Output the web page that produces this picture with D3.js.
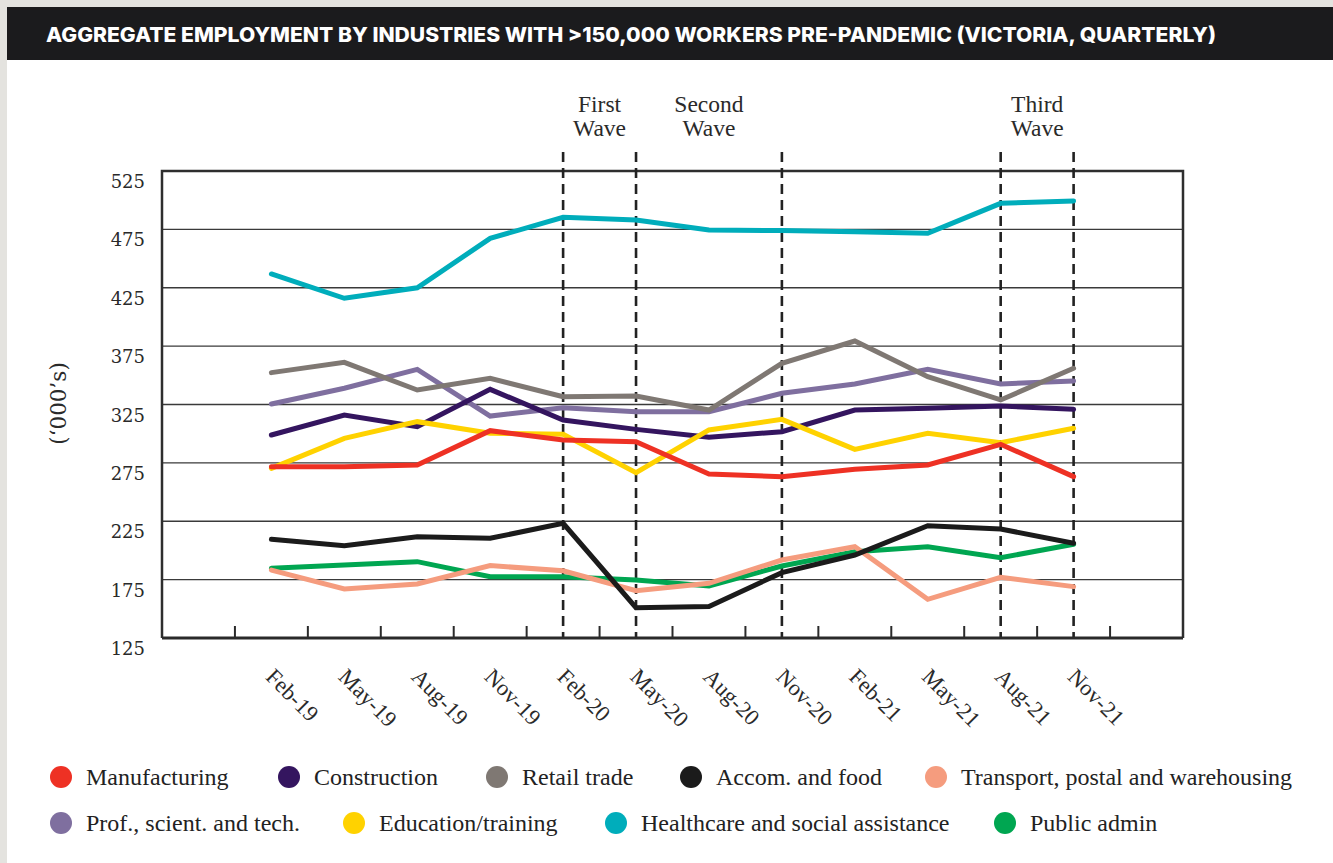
<!DOCTYPE html>
<html>
<head>
<meta charset="utf-8">
<script src="https://cdn.jsdelivr.net/npm/d3@7"></script>
<style>
  html, body { margin: 0; padding: 0; background: #ffffff; }
  svg { display: block; }
</style>
</head>
<body>
<svg id="chart" width="1333" height="863"></svg>
<script>
// ---------------- DATA ----------------
const titleText = "AGGREGATE EMPLOYMENT BY INDUSTRIES WITH >150,000 WORKERS PRE-PANDEMIC (VICTORIA, QUARTERLY)";
const months = ["Feb-19","May-19","Aug-19","Nov-19","Feb-20","May-20","Aug-20","Nov-20","Feb-21","May-21","Aug-21","Nov-21"];
const yTicks = [125, 175, 225, 275, 325, 375, 425, 475, 525];
const yTitle = "(\u2018000\u2019s)";

const manufacturing = [271.7, 271.7, 273.2, 302.6, 294.6, 293.2, 265.5, 263.2, 269.5, 273.2, 290.9, 263.2];
const construction  = [298.9, 316.0, 306.0, 338.0, 311.7, 303.7, 296.9, 301.7, 320.3, 321.7, 323.7, 320.9];
const retailTrade   = [352.3, 361.1, 337.4, 347.4, 331.7, 332.3, 320.3, 360.3, 379.4, 348.8, 328.9, 356.0];
const accomFood     = [209.5, 204.1, 211.8, 210.4, 223.2, 151.0, 152.0, 181.0, 196.1, 221.2, 218.4, 206.1];
const transport     = [183.2, 167.0, 171.3, 187.0, 182.6, 165.5, 171.8, 191.8, 203.2, 158.1, 177.0, 169.0];
const profScient    = [325.4, 338.9, 355.1, 315.1, 322.3, 318.8, 318.8, 334.6, 342.6, 355.1, 342.6, 345.1];
const education     = [270.3, 296.0, 310.3, 300.3, 299.5, 266.6, 303.2, 312.3, 286.6, 300.3, 292.3, 304.6];
const healthcare    = [436.8, 416.0, 425.0, 467.3, 485.3, 483.0, 474.5, 474.0, 473.0, 471.6, 497.3, 499.3];
const publicAdmin   = [184.7, 187.5, 190.4, 177.5, 177.5, 174.7, 169.5, 186.7, 198.9, 203.2, 193.8, 205.3];

const seriesNames  = ["Manufacturing","Construction","Retail trade","Accom. and food","Transport, postal and warehousing",
                      "Prof., scient. and tech.","Education/training","Healthcare and social assistance","Public admin"];
const seriesValues = [manufacturing, construction, retailTrade, accomFood, transport, profScient, education, healthcare, publicAdmin];
const seriesColors = ["#ee3124","#34155f","#7f7873","#1b1b1b","#f59c7e","#7f6f9f","#ffd200","#00adbb","#00a651"];
// drawing order (bottom -> top)
const drawOrder = ["Healthcare and social assistance","Prof., scient. and tech.","Retail trade","Construction",
                   "Education/training","Public admin","Transport, postal and warehousing","Manufacturing","Accom. and food"];

const waveLineMonths = ["Feb-20","May-20","Nov-20","Aug-21","Nov-21"];
const waveLabels = [
  { lines: ["First","Wave"],  from: "Feb-20", to: "May-20" },
  { lines: ["Second","Wave"], from: "Aug-20", to: "Aug-20" },
  { lines: ["Third","Wave"],  from: "Aug-21", to: "Nov-21" }
];

// ---------------- LAYOUT ----------------
const W = 1333, H = 863;
const plot = { left: 162, right: 1183, top: 171, bottom: 638 };
const step = (plot.right - plot.left) / (months.length + 2);

const svg = d3.select("#chart");

// page frame
svg.append("rect").attr("x", 0).attr("y", 0).attr("width", W).attr("height", H).attr("fill", "#e4e3df");
svg.append("rect").attr("x", 7).attr("y", 7).attr("width", W - 7).attr("height", H - 7).attr("fill", "#ffffff");
// title bar
svg.append("rect").attr("x", 7).attr("y", 7).attr("width", W - 7).attr("height", 53).attr("fill", "#1b1b1d");
svg.append("text")
  .attr("x", 46).attr("y", 41.5)
  .attr("fill", "#ffffff")
  .attr("font-family", "Inter, 'Open Sans', sans-serif")
  .attr("font-weight", 800)
  .attr("font-size", 20.5)
  .attr("textLength", 1170)
  .attr("lengthAdjust", "spacingAndGlyphs")
  .text(titleText);

// scales
const x = d3.scaleBand().domain(months).range([plot.left + step, plot.right - step]).padding(0);
const xc = d => x(d) + x.bandwidth() / 2;
const y = d3.scaleLinear().domain([125, 525]).range([plot.bottom, plot.top]);

// gridlines
const g = svg.append("g");
g.selectAll("line.grid")
  .data(yTicks.filter(t => t > 125 && t < 525))
  .join("line")
  .attr("class", "grid")
  .attr("x1", plot.left).attr("x2", plot.right)
  .attr("y1", d => y(d)).attr("y2", d => y(d))
  .attr("stroke", "#3a3a3a").attr("stroke-width", 1.4);

// box (left, top, right)
g.append("path")
  .attr("d", `M${plot.left},${plot.bottom} V${y(525)} H${plot.right} V${plot.bottom}`)
  .attr("fill", "none").attr("stroke", "#2e2e2e").attr("stroke-width", 2.5);

// x-axis ticks at band boundaries
const boundaries = months.map(m => x(m)).concat([x(months[months.length - 1]) + x.bandwidth()]);
g.selectAll("line.xtick")
  .data(boundaries)
  .join("line")
  .attr("class", "xtick")
  .attr("x1", d => d).attr("x2", d => d)
  .attr("y1", plot.bottom - 12).attr("y2", plot.bottom)
  .attr("stroke", "#2a2a2a").attr("stroke-width", 2);

// wave dashed lines
g.selectAll("line.wave")
  .data(waveLineMonths)
  .join("line")
  .attr("class", "wave")
  .attr("x1", d => xc(d)).attr("x2", d => xc(d))
  .attr("y1", 152).attr("y2", plot.bottom)
  .attr("stroke", "#222").attr("stroke-width", 2.6)
  .attr("stroke-dasharray", "10,6");

// wave labels
waveLabels.forEach(w => {
  const cx = (xc(w.from) + xc(w.to)) / 2;
  const t = svg.append("text")
    .attr("text-anchor", "middle")
    .attr("font-family", "'Liberation Serif', 'Times New Roman', serif")
    .attr("font-size", 23.5)
    .attr("fill", "#2a2a2a");
  w.lines.forEach((ln, i) => {
    t.append("tspan").attr("x", cx).attr("y", 112 + i * 24).text(ln);
  });
});

// x axis line
g.append("line")
  .attr("x1", plot.left).attr("x2", plot.right)
  .attr("y1", plot.bottom).attr("y2", plot.bottom)
  .attr("stroke", "#2a2a2a").attr("stroke-width", 3);

// y labels
svg.selectAll("text.ylab")
  .data(yTicks)
  .join("text")
  .attr("class", "ylab")
  .attr("x", 145)
  .attr("y", d => y(d) + 17)
  .attr("text-anchor", "end")
  .attr("font-family", "'DejaVu Serif', serif")
  .attr("font-size", 18)
  .attr("fill", "#2a2a2a")
  .text(d => d);

// y title
svg.append("text")
  .attr("transform", `translate(58,${(plot.top + plot.bottom) / 2 - 1}) rotate(-90)`)
  .attr("text-anchor", "middle")
  .attr("dominant-baseline", "central")
  .attr("font-family", "'DejaVu Serif', serif")
  .attr("font-size", 21.5)
  .attr("fill", "#2a2a2a")
  .text(yTitle);

// x labels
svg.selectAll("text.xlab")
  .data(months)
  .join("text")
  .attr("class", "xlab")
  .attr("transform", d => `translate(${xc(d) - 7},${plot.bottom + 40}) rotate(45)`)
  .attr("font-family", "'Liberation Serif', 'Times New Roman', serif")
  .attr("font-size", 22.5)
  .attr("fill", "#2a2a2a")
  .text(d => d);

// lines
const line = d3.line().x((v, i) => xc(months[i])).y(v => y(v));
const series = seriesNames.map((n, i) => ({ name: n, values: seriesValues[i], color: seriesColors[i] }));
const ordered = drawOrder.map(n => series.find(s => s.name === n));
svg.append("g").selectAll("path")
  .data(ordered)
  .join("path")
  .attr("d", s => line(s.values))
  .attr("fill", "none")
  .attr("stroke", s => s.color)
  .attr("stroke-width", 5)
  .attr("stroke-linejoin", "miter")
  .attr("stroke-linecap", "round");

// legend
const legendPos = [
  [61, 777], [289, 777], [497, 777], [691, 777], [936, 777],
  [61, 823], [354, 823], [616, 823], [1005, 823]
];
const lg = svg.append("g");
series.forEach((s, i) => {
  const [lx, ly] = legendPos[i];
  lg.append("circle").attr("cx", lx).attr("cy", ly).attr("r", 11).attr("fill", s.color);
  lg.append("text")
    .attr("x", lx + 25).attr("y", ly + 8)
    .attr("font-family", "'Liberation Serif', 'Times New Roman', serif")
    .attr("font-size", 24)
    .attr("fill", "#222")
    .text(s.name);
});
</script>
</body>
</html>
